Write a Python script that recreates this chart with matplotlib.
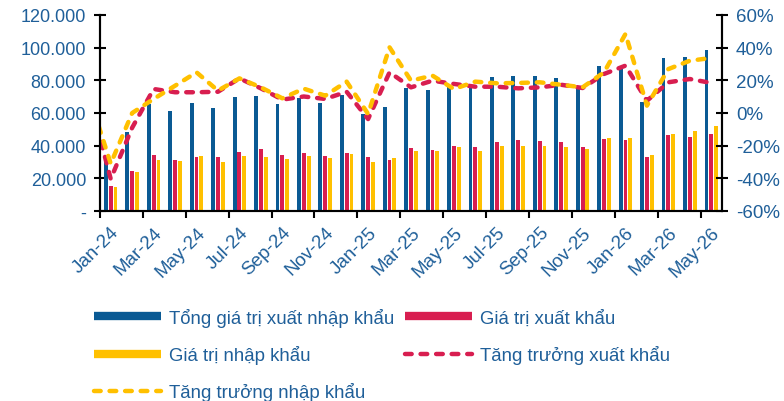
import numpy as np
import matplotlib
matplotlib.use('Agg')
import matplotlib.pyplot as plt
from matplotlib.lines import Line2D
from matplotlib.ticker import FuncFormatter

plt.rcParams['font.family'] = ['Liberation Sans', 'DejaVu Sans']

# Dữ liệu theo tháng (Jan-24 .. May-26)
months = ['Jan-24', 'Feb-24', 'Mar-24', 'Apr-24', 'May-24', 'Jun-24', 'Jul-24', 'Aug-24',
          'Sep-24', 'Oct-24', 'Nov-24', 'Dec-24', 'Jan-25', 'Feb-25', 'Mar-25', 'Apr-25',
          'May-25', 'Jun-25', 'Jul-25', 'Aug-25', 'Sep-25', 'Oct-25', 'Nov-25', 'Dec-25',
          'Jan-26', 'Feb-26', 'Mar-26', 'Apr-26', 'May-26']

tong = [29700, 48500, 65500, 61000, 66300, 63000, 69600, 70600, 65500, 69300,
        66100, 70800, 59400, 63700, 75300, 74100, 76200, 76000, 81900, 82900,
        82400, 81300, 74900, 88600, 88000, 66900, 93500, 94100, 98800]
xuat = [15100, 24700, 34300, 31000, 32900, 33000, 35900, 37800, 34300, 35600,
        33700, 35500, 33100, 31100, 38400, 37500, 39700, 39400, 42300, 43400,
        42800, 42000, 39100, 44100, 43300, 33300, 46500, 45500, 47000]
nhap = [14500, 23700, 31200, 30400, 33900, 30200, 33900, 33300, 31800, 33800,
        32700, 35000, 30100, 32700, 36900, 36700, 39100, 36700, 40000, 39800,
        39900, 39400, 38000, 44700, 44700, 34300, 47100, 48800, 52000]

# tăng trưởng (%), giá trị đầu tiên là Dec-23 (chỉ thấy một đoạn ở mép trái)
tt_xuat = [10, -40.4, -9, 14.7, 12.7, 12.7, 13, 21.2, 15.1, 8.2, 10.1, 8.6, 13, -3.7,
           24.9, 15.7, 19.8, 17.8, 16.1, 16.1, 15.1, 15.7, 17.3, 15.3, 23.9, 29,
           7.5, 18.8, 20.8, 18.4]
tt_nhap = [10, -31, 0, 8.6, 16.7, 24.9, 13.7, 21.2, 15.7, 9, 14.9, 10.6, 19.2, -0.6,
           40.2, 19.8, 22.9, 14.7, 19.2, 18.2, 18.4, 18.8, 17.3, 15.7, 24.9, 48.4,
           4.5, 26.9, 32, 33.7]

BLUE = '#0A5A94'
RED = '#D81E50'
YEL = '#FFC000'
TXT = '#1F5F99'

fig = plt.figure(figsize=(7.84, 4.02), dpi=100)
ax = fig.add_axes([100 / 784, 1 - 212 / 402, 622 / 784, 196 / 402])

x = np.arange(len(months))
w = 0.18
off = 0.225
ax.bar(x - off, tong, w, color=BLUE, zorder=2)
ax.bar(x, xuat, w, color=RED, zorder=2)
ax.bar(x + off, nhap, w, color=YEL, zorder=2)
ax.set_ylim(0, 120000)

ax2 = ax.twinx()
xg = np.arange(-1, len(months))
ax2.plot(xg, tt_xuat, color=RED, lw=3.2, dashes=(1.5, 2), dash_capstyle='round')
ax2.plot(xg, tt_nhap, color=YEL, lw=3.2, dashes=(1.5, 2), dash_capstyle='round')
ax2.set_ylim(-60, 60)
ax.set_xlim(-0.5, len(months) - 0.5)

for a in (ax, ax2):
    a.spines['top'].set_visible(False)
    for s in ('left', 'right', 'bottom'):
        a.spines[s].set_linewidth(1.5)
        a.spines[s].set_color('black')
ax.spines['bottom'].set_color('#333333')

ax.set_yticks(range(0, 120001, 20000))
ax.yaxis.set_major_formatter(FuncFormatter(
    lambda v, p: '-' if v == 0 else f'{v:,.0f}'.replace(',', '.')))
ax.tick_params(axis='y', direction='inout', length=8, width=1.5,
               labelcolor=TXT, labelsize=13, pad=6)

ax2.set_yticks(range(-60, 61, 20))
ax2.yaxis.set_major_formatter(FuncFormatter(lambda v, p: f'{v:.0f}%'))
ax2.tick_params(axis='y', direction='inout', length=8, width=1.5,
                labelcolor=TXT, labelsize=13.5, pad=6)

# vạch chia giữa các nhóm, nhãn ở giữa tháng
ax.set_xticks(np.arange(-0.5, len(months) - 1, 2))
ax.set_xticklabels([])
ax.tick_params(axis='x', which='major', direction='out', length=5, width=1.5)
ax.set_xticks(x[::2], minor=True)
ax.set_xticklabels(months[::2], minor=True, rotation=45, ha='right',
                   rotation_mode='anchor', color=TXT, fontsize=13.5)
ax.tick_params(axis='x', which='minor', length=0, pad=9)

handles = [
    Line2D([0], [0], color=BLUE, lw=6, solid_capstyle='butt'),
    Line2D([0], [0], color=YEL, lw=6, solid_capstyle='butt'),
    Line2D([0], [0], color=YEL, lw=3.2, dashes=(1.5, 2), dash_capstyle='round'),
    Line2D([0], [0], color=RED, lw=6, solid_capstyle='butt'),
    Line2D([0], [0], color=RED, lw=3.2, dashes=(1.5, 2), dash_capstyle='round'),
]
labels = ['Tổng giá trị xuất nhập khẩu', 'Giá trị nhập khẩu', 'Tăng trưởng nhập khẩu',
          'Giá trị xuất khẩu', 'Tăng trưởng xuất khẩu']
fig.legend(handles, labels, ncol=2, loc='upper left',
           bbox_to_anchor=(94 / 784, 1 - 309 / 402), frameon=False, fontsize=13.4,
           handlelength=3.6, handletextpad=0.45, columnspacing=0.55, labelspacing=0.97,
           labelcolor=TXT, borderpad=0, borderaxespad=0)

fig.savefig('out.png', dpi=100)
